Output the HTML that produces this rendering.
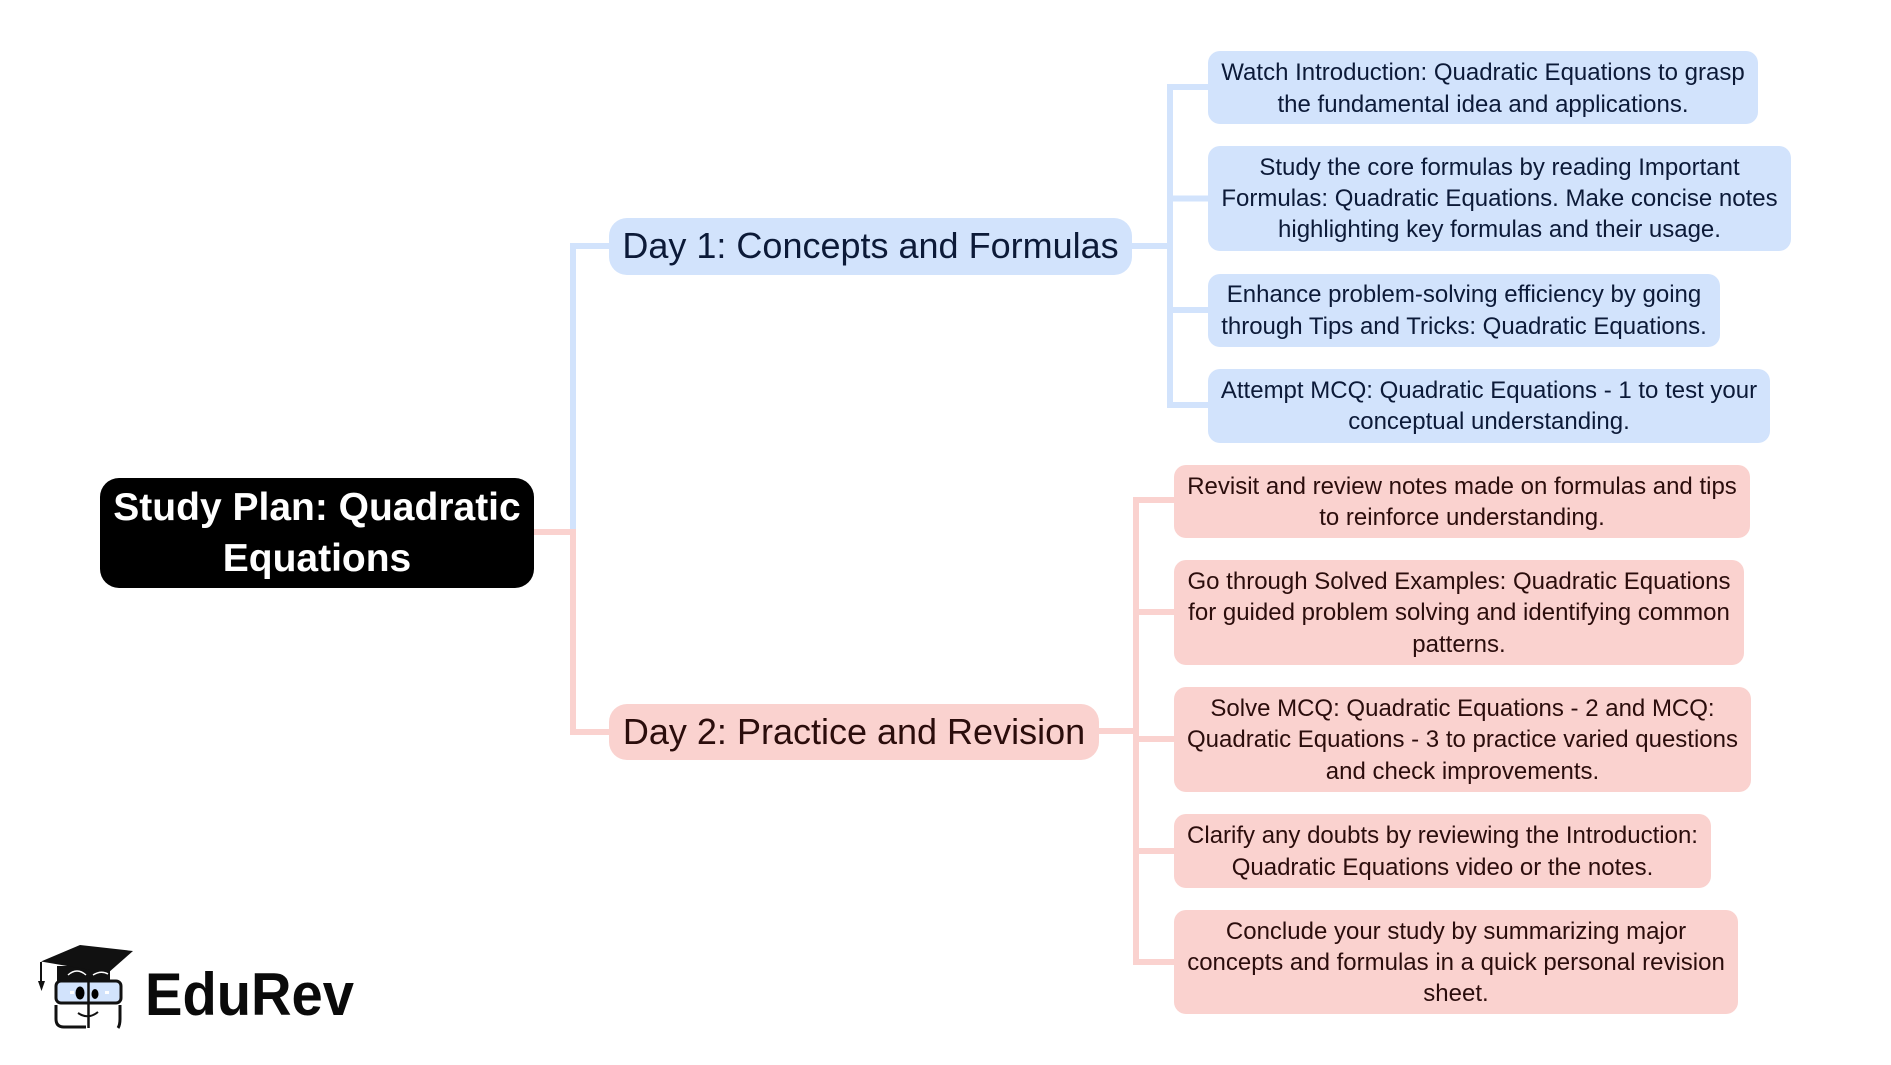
<!DOCTYPE html>
<html><head><meta charset="utf-8"><title>Study Plan: Quadratic Equations</title>
<style>
html,body{margin:0;padding:0;background:#fff;width:1891px;height:1065px;overflow:hidden}
body{position:relative;font-family:"Liberation Sans",sans-serif}
.n{position:absolute;display:flex;align-items:center;justify-content:center;text-align:center;box-sizing:border-box;white-space:nowrap}
.c{font-size:24px;line-height:31.2px;border-radius:12px}
.b{background:#d2e3fc;color:#0c1a38}
.r{background:#fad2cf;color:#2b0d0c}
.d{font-size:36px;border-radius:18px}
.root{background:#000;color:#fff;font-weight:bold;font-size:39px;line-height:51px;border-radius:19px}
svg{position:absolute;left:0;top:0}
</style></head><body>
<svg width="1891" height="1065" viewBox="0 0 1891 1065">
<g fill="none" stroke-width="6" stroke-linejoin="miter">
<path d="M573 532V246H609" stroke="#d2e3fc"/>
<path d="M1132 246H1170M1208 87H1170V405H1208M1170 198.500H1208M1170 310H1208" stroke="#d2e3fc"/>
<path d="M534 532H573V732H609" stroke="#fad2cf"/>
<path d="M1098 731H1136M1174 500H1136V962H1174M1136 612H1174M1136 739H1174M1136 851H1174" stroke="#fad2cf"/>
</g>
<!-- logo -->
<g>
<path d="M57 966H110V981H57Z" fill="#111"/>
<path d="M41 961.500L80 945L133 951L108 973Z" fill="#111"/>
<path d="M41 962V982" stroke="#111" stroke-width="2" fill="none"/>
<path d="M38 981L45 981L41.500 991Z" fill="#111"/>
<path d="M68 975Q77 967 86 975M93 975Q101 970 108 974" stroke="#fff" stroke-width="1.500" fill="none"/>
<rect x="56" y="981" width="65" height="22" rx="5" fill="#d2e3fc" stroke="#111" stroke-width="3"/>
<path d="M56 1005V1019Q56 1027 64 1027H86M120 1005V1019Q120 1025 118 1028" stroke="#111" stroke-width="3" fill="none"/>
<path d="M88.500 977V1028" stroke="#111" stroke-width="2.500" fill="none"/>
<rect x="70" y="991" width="4" height="3" fill="#fff"/>
<rect x="105" y="991" width="4" height="3" fill="#fff"/>
<ellipse cx="80" cy="993" rx="4.500" ry="6.500" fill="#000"/>
<ellipse cx="95" cy="994" rx="3.500" ry="5" fill="#000"/>
<path d="M78 1013Q88 1020 98 1012" stroke="#111" stroke-width="2" fill="none"/>
</g>
<text x="145" y="1015" font-family="Liberation Sans,sans-serif" font-weight="bold" font-size="60" fill="#0a0a0a" textLength="209" lengthAdjust="spacingAndGlyphs">EduRev</text>
</svg>
<div class="n root" style="left:100px;top:477.500px;width:434px;height:110px">Study Plan: Quadratic<br>Equations</div>
<div class="n d b" style="left:609px;top:218px;width:523px;height:57px;padding-bottom:2px">Day 1: Concepts and Formulas</div>
<div class="n d r" style="left:609px;top:704px;width:490px;height:56px">Day 2: Practice and Revision</div>
<div class="n c b" style="left:1208px;top:51px;width:550px;height:73px;padding-top:2px">Watch Introduction: Quadratic Equations to grasp<br>the fundamental idea and applications.</div>
<div class="n c b" style="left:1208px;top:146px;width:583px;height:105px">Study the core formulas by reading Important<br>Formulas: Quadratic Equations. Make concise notes<br>highlighting key formulas and their usage.</div>
<div class="n c b" style="left:1208px;top:274px;width:512px;height:73px">Enhance problem-solving efficiency by going<br>through Tips and Tricks: Quadratic Equations.</div>
<div class="n c b" style="left:1208px;top:369px;width:562px;height:74px">Attempt MCQ: Quadratic Equations - 1 to test your<br>conceptual understanding.</div>
<div class="n c r" style="left:1174px;top:465px;width:576px;height:73px;padding-top:1px">Revisit and review notes made on formulas and tips<br>to reinforce understanding.</div>
<div class="n c r" style="left:1174px;top:560px;width:570px;height:105px;padding-top:1px">Go through Solved Examples: Quadratic Equations<br>for guided problem solving and identifying common<br>patterns.</div>
<div class="n c r" style="left:1174px;top:687px;width:577px;height:105px;padding-top:1px">Solve MCQ: Quadratic Equations - 2 and MCQ:<br>Quadratic Equations - 3 to practice varied questions<br>and check improvements.</div>
<div class="n c r" style="left:1174px;top:814px;width:537px;height:74px;padding-top:1px">Clarify any doubts by reviewing the Introduction:<br>Quadratic Equations video or the notes.</div>
<div class="n c r" style="left:1174px;top:910px;width:564px;height:104px;padding-top:1px">Conclude your study by summarizing major<br>concepts and formulas in a quick personal revision<br>sheet.</div>
</body></html>
